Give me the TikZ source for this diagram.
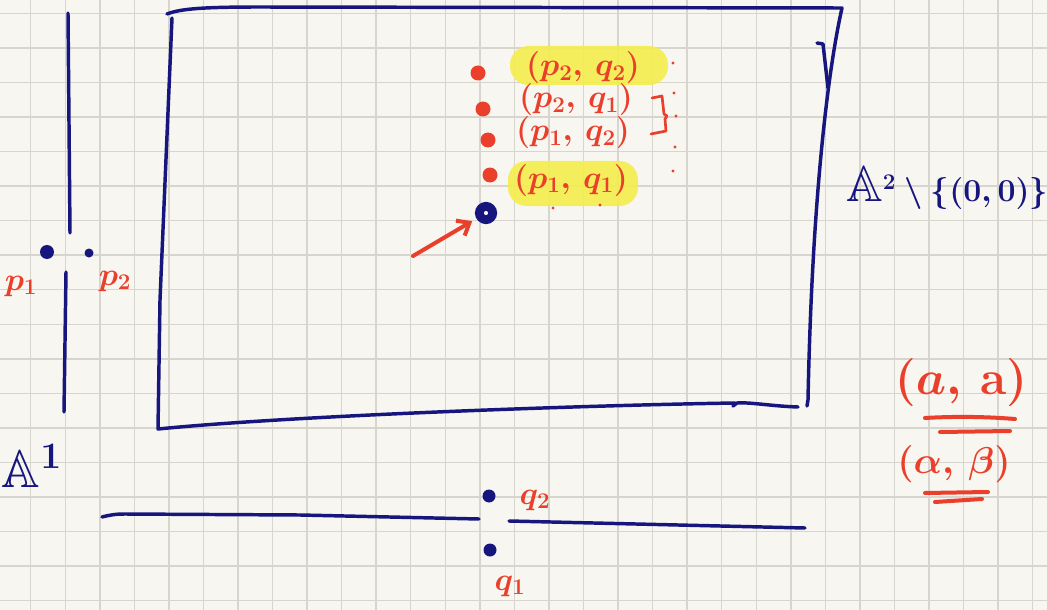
\RequirePackage{fix-cm}
\documentclass[tikz,border=0pt]{standalone}
\usepackage{amsmath}
\usepackage{amssymb}
\usetikzlibrary{arrows.meta}
\definecolor{paper}{HTML}{F8F6F1}
\definecolor{gridc}{HTML}{D8D5CE}
\definecolor{navy}{HTML}{16167E}
\definecolor{redink}{HTML}{EA3F2B}
\definecolor{hilite}{HTML}{F4EE4E}
\begin{document}
\begin{tikzpicture}[x=0.75pt,y=-0.75pt,
  gridline/.style={gridc, line width=1.1pt},
  navyline/.style={navy, line width=2.6pt, line cap=round, line join=round},
  redline/.style={redink, line width=3pt, line cap=round, line join=round},
  navydot/.style={circle, fill=navy, inner sep=0pt, minimum size=#1},
  reddot/.style={circle, fill=redink, inner sep=0pt, minimum size=#1},
  redlabel/.style={text=redink, font=\fontsize{24}{28}\selectfont\boldmath, inner sep=0pt},
  navylabel/.style={text=navy, inner sep=0pt},
  hl/.style={fill=hilite, rounded corners=14pt, opacity=0.9},
  ]
\useasboundingbox (0,0) rectangle (1047,610);
\fill[paper] (0,0) rectangle (1047,610);
\foreach \i in {0,...,29} \draw[gridline] ({30.7+34.55*\i},0) -- ({30.7+34.55*\i},610);
\foreach \j in {0,...,17} \draw[gridline] (0,{13.3+34.55*\j}) -- (1047,{13.3+34.55*\j});

% A^1 vertical axis
\draw[navyline] (68,13) -- (70,233);
\draw[navyline] (66,272) -- (64,412);
\node[navydot=10.5pt] (p1dot) at (47,252) {};
\node[navydot=6.75pt] (p2dot) at (89,253) {};
\node[redlabel] (p1lab) at (21,286) {$p_1$};
\node[redlabel] (p2lab) at (115,281) {$p_2$};
\node[navylabel, font=\fontsize{40}{44}\selectfont\boldmath] (A1lab) at (32,466) {$\mathbb{A}^1$};

% bottom A^1 horizontal axis
\draw[navyline] (102,517) .. controls (110,515) and (115,514) .. (125,514) -- (300,515) -- (479,519);
\draw[navyline] (509,521) -- (805,528);
\node[navydot=9.75pt] (q2dot) at (489,496) {};
\node[navydot=9.75pt] (q1dot) at (490,550) {};
\node[redlabel] (q2lab) at (535,500) {$q_2$};
\node[redlabel] (q1lab) at (510,586) {$q_1$};

% rectangle A^2
\draw[navyline] (167,14) .. controls (180,9) and (200,7) .. (260,7) -- (842,8)
  .. controls (828,70) and (812,200) .. (808,400) -- (807,406);
\draw[navyline] (798,407) .. controls (770,406) and (750,402) .. (737,403)
  -- (733,406) -- (735,403) .. controls (600,405) and (300,415) .. (158,429)
  -- (160,300) -- (172,18);
\draw[navyline] (817,43) -- (823,44) -- (828,88);

% highlights
\fill[hl] (510,46) rectangle (668,85);
\fill[hl] (508,161) rectangle (638,206);

% points of A^2
\node[reddot=11.25pt] (d22) at (478,73) {};
\node[reddot=11.25pt] (d21) at (483,109) {};
\node[reddot=11.25pt] (d12) at (488,140) {};
\node[reddot=11.25pt] (d11) at (490,175) {};
\node[circle, draw=navy, line width=6.6pt, inner sep=0pt, minimum size=10pt] (ring) at (486,213) {};

\node[redlabel] (l22) at (583,68) {$(p_2,\,q_2)$};
\node[redlabel] (l21) at (576,100) {$(p_2,\,q_1)$};
\node[redlabel] (l12) at (573,133) {$(p_1,\,q_2)$};
\node[redlabel] (l11) at (571,180) {$(p_1,\,q_1)$};

\draw[redink, line width=2pt, line cap=round, line join=round] (652,98) -- (662,96) -- (664,114) -- (667,116) -- (665,119) -- (666,131) -- (651,134);
\foreach \k/\xx/\yy in {a/673/63, b/674/93, c/676/116, d/675/147, e/673/171, f/553/208, g/600/205}
  \node[reddot=2.5pt] (sd\k) at (\xx,\yy) {};

% arrow to origin
\coordinate (arrtail) at (413,256);
\draw[redline, -{Straight Barb[length=8pt,width=13pt,line width=3pt]}, shorten >=12pt] (arrtail) -- (ring.center);

% A^2 minus origin
\node[navylabel, anchor=west, font=\fontsize{24}{28}\selectfont\boldmath] (A2lab) at (846,188) {{\fontsize{38}{42}\selectfont$\mathbb{A}$}$^2\setminus\{(0,0)\}$};

% (a,a) and (alpha,beta)
\node[redlabel, font=\fontsize{36}{40}\selectfont\boldmath] (aalab) at (961,382) {$(a,\,\mathbf{a})$};
\draw[redline] (925,418) .. controls (960,416) and (990,417) .. (1015,419);
\draw[redline] (940,432) -- (1010,431);
\node[redlabel, font=\fontsize{28}{32}\selectfont\boldmath] (ablab) at (954,464) {$(\alpha,\,\beta)$};
\draw[redline] (925,493) -- (988,492);
\draw[redline] (935,502) -- (982,499);
\end{tikzpicture}
\end{document}
